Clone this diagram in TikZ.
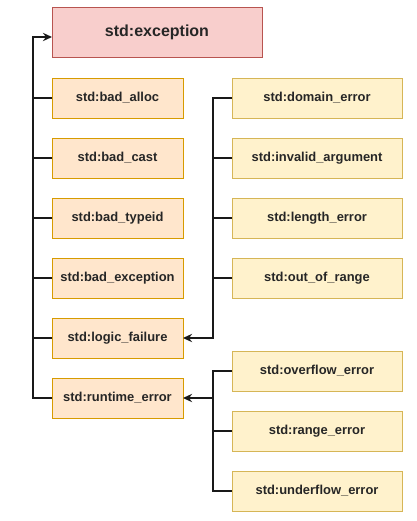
\documentclass[tikz,border=0pt]{standalone}
\usepackage{fontspec}
\setsansfont{Liberation Sans}
\usetikzlibrary{arrows.meta,positioning}
\definecolor{excfill}{HTML}{F8CECC}
\definecolor{excline}{HTML}{B85450}
\definecolor{basefill}{HTML}{FFE6CC}
\definecolor{baseedge}{HTML}{D79B00}
\definecolor{errfill}{HTML}{FFF2CC}
\definecolor{erredge}{HTML}{D6B656}
\tikzset{
    rootblock/.style={draw=excline, fill=excfill, line width=0.75pt, align=center, inner sep=0pt, outer sep=0pt, text=black!85, font=\sffamily\bfseries\fontsize{12}{14}\selectfont, minimum width=157.5pt, minimum height=37.5pt},
    baseblock/.style={draw=baseedge, fill=basefill, line width=0.75pt, align=center, inner sep=0pt, outer sep=0pt, text=black!85, font=\sffamily\bfseries\fontsize{9.7}{11}\selectfont, minimum width=98.25pt, minimum height=30pt},
    errblock/.style={draw=erredge, fill=errfill, line width=0.75pt, align=center, inner sep=0pt, outer sep=0pt, text=black!85, font=\sffamily\bfseries\fontsize{9.7}{11}\selectfont, minimum width=127.5pt, minimum height=30pt},
    treeline/.style={line width=1.1pt, draw=black!90},
    treearrow/.style={treeline, -{Stealth[length=2.4mm, width=2.2mm, inset=0.8mm]}}
}
\begin{document}
\begin{tikzpicture}[node distance=15pt and 36.75pt]
    \useasboundingbox (0,0) rectangle (312.75pt,-390.75pt);
    % base class
    \node[rootblock, anchor=north west] (exc) at (39pt,-5.25pt) {std:exception};
    % direct children
    \node[baseblock, below=15.75pt of exc.south west, anchor=north west] (alloc) {std:bad\_alloc};
    \node[baseblock, below=of alloc] (cast) {std:bad\_cast};
    \node[baseblock, below=of cast] (typeid) {std:bad\_typeid};
    \node[baseblock, below=of typeid] (badexc) {std:bad\_exception};
    \node[baseblock, below=of badexc] (logic) {std:logic\_failure};
    \node[baseblock, below=of logic] (runtime) {std:runtime\_error};
    % logic errors
    \node[errblock, right=of alloc] (domain) {std:domain\_error};
    \node[errblock, below=of domain] (invarg) {std:invalid\_argument};
    \node[errblock, below=of invarg] (length) {std:length\_error};
    \node[errblock, below=of length] (outofrange) {std:out\_of\_range};
    % runtime errors
    \node[errblock, below=39.75pt of outofrange] (overflow) {std:overflow\_error};
    \node[errblock, below=of overflow] (rangeerr) {std:range\_error};
    \node[errblock, below=of rangeerr] (underflow) {std:underflow\_error};

    \draw[treearrow] (runtime.west) -- ++(-14.25pt,0) |- ([yshift=-3.75pt]exc.west);
    \foreach \n in {alloc,cast,typeid,badexc,logic}
        \draw[treeline] (\n.west) -- ++(-14.25pt,0);
    \draw[treearrow] (domain.west) -- ++(-14.25pt,0) |- (logic.east);
    \foreach \n in {invarg,length,outofrange}
        \draw[treeline] (\n.west) -- ++(-14.25pt,0);
    \coordinate[left=14.25pt of overflow.west] (lowtrunk);
    \draw[treeline] (overflow.west) -- (lowtrunk) |- (underflow.west);
    \draw[treeline] (rangeerr.west) -- ++(-14.25pt,0);
    \draw[treearrow] (lowtrunk |- runtime.east) -- (runtime.east);
\end{tikzpicture}
\end{document}
